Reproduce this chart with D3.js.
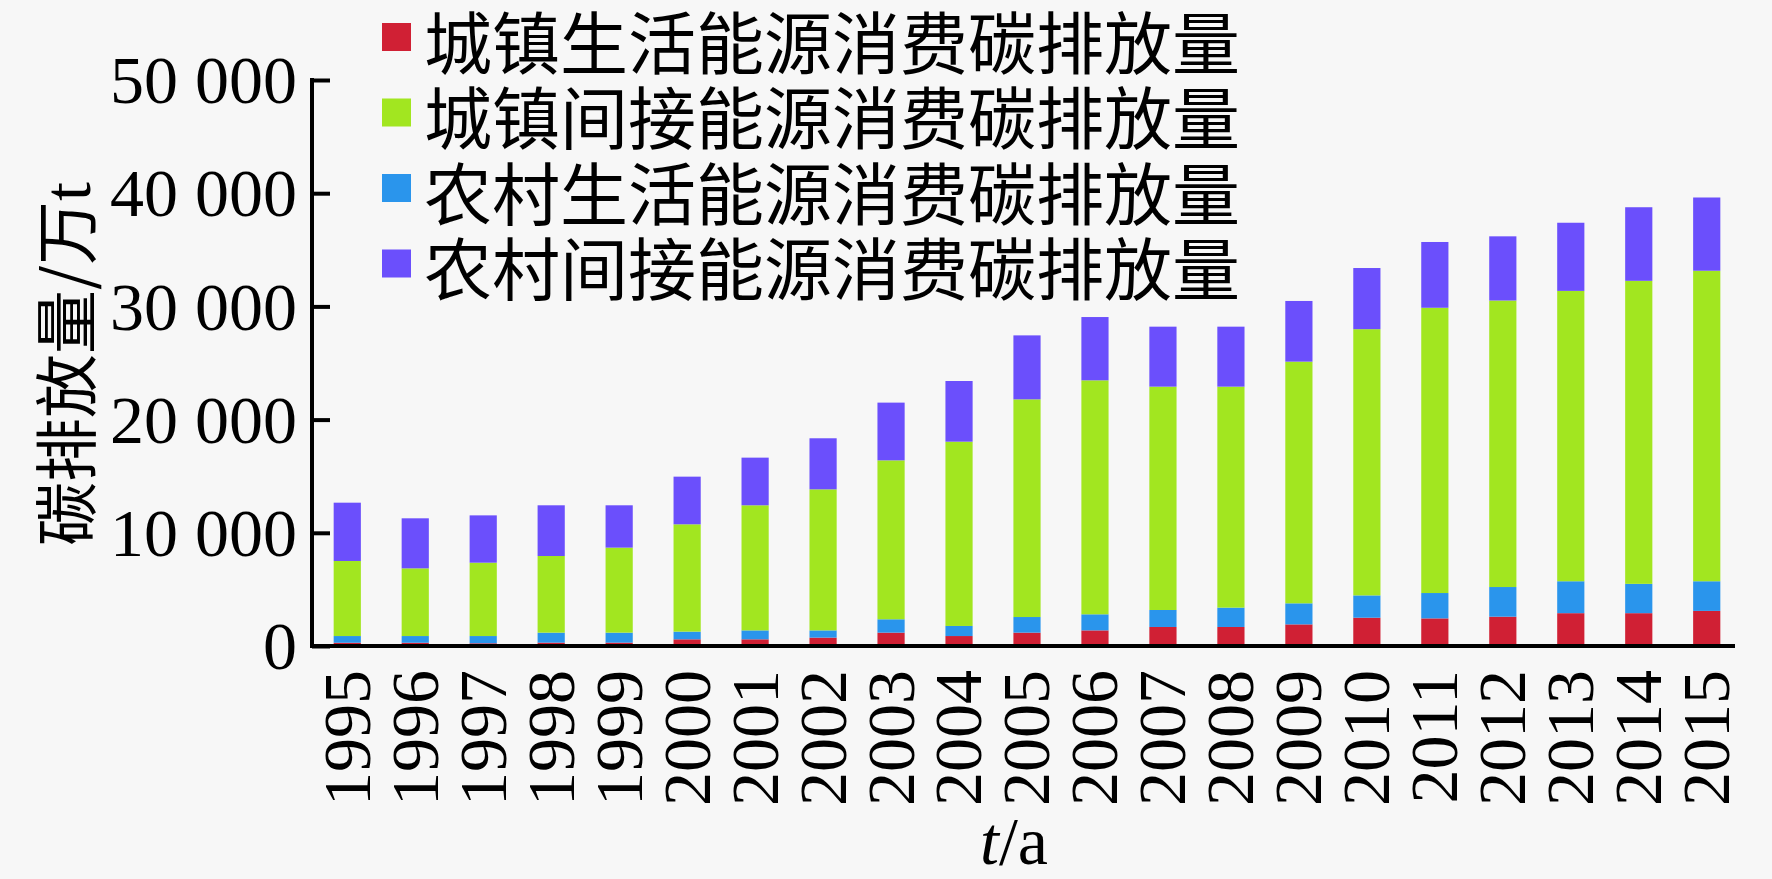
<!DOCTYPE html>
<html>
<head>
<meta charset="utf-8">
<script src="https://cdn.jsdelivr.net/npm/d3@7"></script>
<style>
  html, body { margin: 0; padding: 0; background: #f7f7f7; }
  svg { display: block; }
</style>
</head>
<body>
<div id="chart"></div>
<script>
// years on the x axis
var years = ['1995', '1996', '1997', '1998', '1999', '2000', '2001', '2002', '2003', '2004',
             '2005', '2006', '2007', '2008', '2009', '2010', '2011', '2012', '2013', '2014', '2015'];

// series, 万t (bottom to top in the stack)
var urbanDirect   = [290, 290, 240, 300, 300, 590, 590, 740, 1180, 880, 1180, 1380, 1680, 1680, 1910, 2500, 2440, 2590, 2900, 2900, 3100];
var ruralDirect   = [590, 590, 640, 880, 880, 680, 790, 640, 1180, 890, 1380, 1420, 1500, 1710, 1860, 1970, 2240, 2620, 2820, 2590, 2620];
var urbanIndirect = [6630, 5980, 6480, 6770, 7510, 9480, 11050, 12460, 14040, 16280, 19230, 20670, 19730, 19520, 21350, 23520, 25200, 25310, 25650, 26770, 27430];
var ruralIndirect = [5150, 4420, 4180, 4480, 3740, 4210, 4210, 4510, 5100, 5360, 5650, 5590, 5300, 5300, 5360, 5400, 5810, 5670, 6020, 6500, 6470];

var yTicks = [0, 10000, 20000, 30000, 40000, 50000];

var legendNames = ['城镇生活能源消费碳排放量', '城镇间接能源消费碳排放量', '农村生活能源消费碳排放量', '农村间接能源消费碳排放量'];
var legendKeys  = ['urbanDirect', 'urbanIndirect', 'ruralDirect', 'ruralIndirect'];
var stackKeys   = ['urbanDirect', 'ruralDirect', 'urbanIndirect', 'ruralIndirect'];
var colors = {
    urbanDirect: '#d02034',
    urbanIndirect: '#a2e620',
    ruralDirect: '#2a95ec',
    ruralIndirect: '#6b4ffc'
};

var W = 1772, H = 879;
var serif = '"Liberation Serif", "Times New Roman", serif';
var cjk = '"Noto Sans CJK SC", sans-serif';

var rows = years.map(function (y, i) {
    return {
        year: y,
        urbanDirect: urbanDirect[i],
        ruralDirect: ruralDirect[i],
        urbanIndirect: urbanIndirect[i],
        ruralIndirect: ruralIndirect[i]
    };
});

var svg = d3.select('#chart').append('svg')
    .attr('width', W)
    .attr('height', H);

svg.append('rect').attr('width', W).attr('height', H).attr('fill', '#f7f7f7');

var axisX = 312, baseY = 646, topY = 80;

var x = d3.scaleBand()
    .domain(years)
    .range([316, 1738])
    .paddingInner(0.6)
    .paddingOuter(0.26);

var y = d3.scaleLinear()
    .domain([0, 50000])
    .range([baseY, topY]);

var series = d3.stack().keys(stackKeys)(rows);

// bars
svg.append('g')
    .selectAll('g')
    .data(series)
    .join('g')
    .attr('fill', function (s) { return colors[s.key]; })
    .selectAll('rect')
    .data(function (s) { return s; })
    .join('rect')
    .attr('x', function (d) { return x(d.data.year); })
    .attr('width', x.bandwidth())
    .attr('y', function (d) { return y(d[1]); })
    .attr('height', function (d) { return y(d[0]) - y(d[1]); });

// y axis: ticks point inward, labels on the left
var yAxis = svg.append('g')
    .attr('transform', 'translate(' + axisX + ',0)')
    .call(d3.axisRight(y).tickValues(yTicks).tickSize(18).tickFormat(''));
yAxis.select('.domain').remove();
yAxis.selectAll('.tick line').attr('stroke', '#000').attr('stroke-width', 4);

svg.append('line')
    .attr('x1', axisX).attr('x2', axisX)
    .attr('y1', topY - 2).attr('y2', baseY + 2)
    .attr('stroke', '#000').attr('stroke-width', 4);

svg.append('g')
    .selectAll('text')
    .data(yTicks)
    .join('text')
    .attr('x', axisX - 15)
    .attr('y', function (d) { return y(d); })
    .attr('dy', '0.34em')
    .attr('text-anchor', 'end')
    .attr('font-family', serif)
    .attr('font-size', 68)
    .attr('fill', '#000')
    .text(function (d) { return d === 0 ? '0' : d3.format(',')(d).replace(',', ' '); });

// x axis line
svg.append('line')
    .attr('x1', axisX - 2).attr('x2', 1735)
    .attr('y1', baseY).attr('y2', baseY)
    .attr('stroke', '#000').attr('stroke-width', 4);

// rotated year labels
svg.append('g')
    .selectAll('text')
    .data(years)
    .join('text')
    .attr('transform', function (d) {
        return 'translate(' + (x(d) + x.bandwidth() / 2) + ',670) rotate(-90)';
    })
    .attr('dy', '0.33em')
    .attr('text-anchor', 'end')
    .attr('font-family', serif)
    .attr('font-size', 68)
    .attr('fill', '#000')
    .text(function (d) { return d; });

// axis titles
var xTitle = svg.append('text')
    .attr('x', 1014)
    .attr('y', 864)
    .attr('text-anchor', 'middle')
    .attr('font-family', serif)
    .attr('font-size', 68)
    .attr('fill', '#000');
xTitle.append('tspan').attr('font-style', 'italic').text('t');
xTitle.append('tspan').text('/a');

var yTitle = svg.append('text')
    .attr('transform', 'translate(68,364) rotate(-90)')
    .attr('dy', '0.35em')
    .attr('text-anchor', 'middle')
    .attr('font-family', cjk)
    .attr('font-size', 64)
    .attr('fill', '#000');
yTitle.append('tspan').text('碳排放量/万');
yTitle.append('tspan').attr('font-family', serif).attr('font-size', 68).text('t');

// legend
var legend = svg.append('g')
    .selectAll('g')
    .data(legendNames)
    .join('g')
    .attr('transform', function (d, i) { return 'translate(382,' + (37 + i * 75.5) + ')'; });

legend.append('rect')
    .attr('x', 0).attr('y', -14)
    .attr('width', 29).attr('height', 28)
    .attr('fill', function (d, i) { return colors[legendKeys[i]]; });

legend.append('text')
    .attr('x', 42)
    .attr('y', 2)
    .attr('dominant-baseline', 'central')
    .attr('font-family', cjk)
    .attr('font-size', 68)
    .attr('fill', '#000')
    .text(function (d) { return d; });
</script>
</body>
</html>
